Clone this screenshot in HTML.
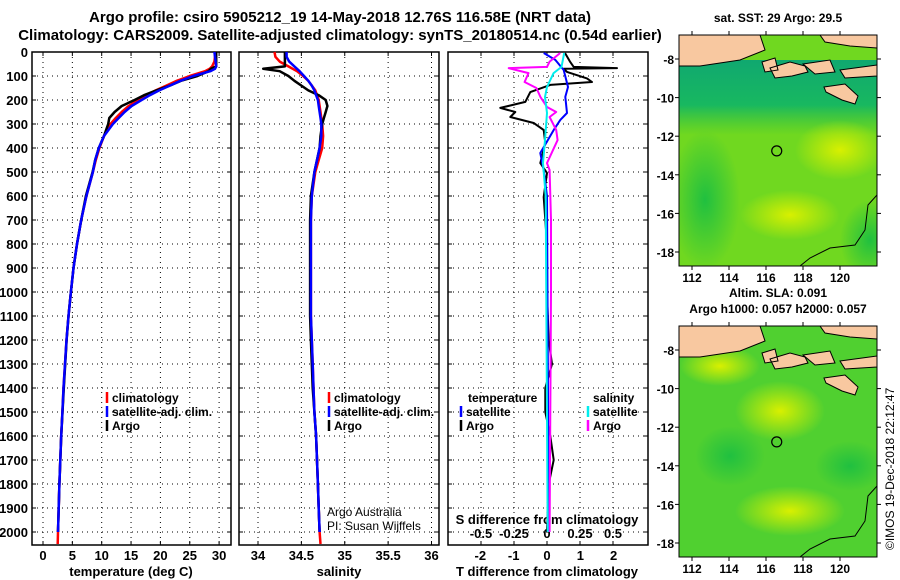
<!DOCTYPE html>
<html><head><meta charset="utf-8"><style>
body{margin:0;background:#fff}
svg{display:block;font-family:"Liberation Sans",sans-serif;font-weight:bold}
</style></head><body>
<svg id="c" width="900" height="580" viewBox="0 0 900 580">
<defs>
<radialGradient id="y1" cx="0.5" cy="0.5" r="0.5"><stop offset="0" stop-color="#d8f000"/><stop offset="1" stop-color="#d8f000" stop-opacity="0"/></radialGradient>
<radialGradient id="g1" cx="0.5" cy="0.5" r="0.5"><stop offset="0" stop-color="#20c040"/><stop offset="1" stop-color="#20c040" stop-opacity="0"/></radialGradient>
<linearGradient id="band" x1="0" y1="0" x2="0" y2="1"><stop offset="0" stop-color="#10a870"/><stop offset="0.6" stop-color="#18b860"/><stop offset="1" stop-color="#30c040" stop-opacity="0"/></linearGradient>
<clipPath id="m1c"><rect x="679" y="35" width="198" height="231"/></clipPath>
<clipPath id="m2c"><rect x="679" y="326" width="198" height="231"/></clipPath>
</defs>
<text x="340" y="22" text-anchor="middle" font-size="15">Argo profile: csiro 5905212_19 14-May-2018 12.76S 116.58E (NRT data)</text>
<text x="340" y="40" text-anchor="middle" font-size="15">Climatology: CARS2009. Satellite-adjusted climatology: synTS_20180514.nc (0.54d earlier)</text>
<g id="p1"></g>
<g id="p2"></g>
<g id="p3"></g>
<g id="m1"></g>
<g id="m2"></g>
<text x="894" y="550" transform="rotate(-90 894 550)" font-size="12" font-weight="normal">©IMOS 19-Dec-2018 22:12:47</text>
</svg>
<script>
const depths=[0,20,40,60,70,80,100,120,140,160,180,200,225,250,275,300,350,400,450,500,600,700,800,900,1000,1100,1200,1300,1400,1500,1600,1700,1800,1900,2000,2050];
const climT=[29.3,29.3,29.2,28.8,28.4,27.6,25.0,22.8,21.0,19.2,17.6,16.2,14.6,13.4,12.4,11.5,10.4,9.6,9.0,8.5,7.4,6.5,5.8,5.2,4.75,4.35,4.0,3.75,3.5,3.3,3.1,2.95,2.8,2.68,2.56,2.5];
const satT=[29.2,29.3,29.4,29.5,29.3,28.5,25.6,23.4,21.6,19.8,18.2,16.8,15.1,13.9,12.9,11.9,10.4,9.5,8.9,8.5,7.4,6.5,5.8,5.2,4.75,4.35,4.0,3.75,3.5,3.3,3.1,2.95,2.8,2.68,2.56];
const argoT=[29.5,29.5,29.5,29.5,28.6,28.2,26.3,23.5,21.6,19.3,17.2,15.6,13.4,12.2,11.3,11.1,10.4,9.5,8.9,8.45,7.3,6.5,5.8,5.2,4.75,4.35,4.02,3.78,3.55,3.32,3.1,2.95,2.8,2.68,2.56];
const climS=[34.19,34.2,34.25,34.35,34.4,34.45,34.52,34.58,34.62,34.66,34.68,34.70,34.71,34.72,34.73,34.74,34.75,34.74,34.70,34.66,34.62,34.61,34.61,34.61,34.61,34.61,34.62,34.63,34.64,34.65,34.67,34.68,34.69,34.70,34.71,34.72];
const satS=[34.33,34.33,34.36,34.42,34.45,34.48,34.53,34.58,34.62,34.65,34.67,34.69,34.70,34.71,34.72,34.73,34.73,34.71,34.68,34.65,34.62,34.61,34.61,34.61,34.61,34.61,34.62,34.63,34.64,34.65,34.67,34.68,34.69,34.70,34.71];
const argoS=[34.31,34.31,34.31,34.31,34.06,34.25,34.35,34.42,34.50,34.58,34.70,34.78,34.80,34.78,34.76,34.74,34.72,34.71,34.68,34.65,34.61,34.60,34.60,34.60,34.60,34.60,34.61,34.62,34.63,34.65,34.67,34.68,34.69,34.70,34.71];
const argoTdiffD=[4,42,62,67,70,83,110,125,137,167,208,233,250,271,296,325,379,463,504,604,800,1000,1200,1300,1400,1500,1600,1700,1800,2000];
const argoTdiff=[0.54,0.7,0.8,2.1,0.5,0.6,1.2,1.35,0.1,-0.5,-0.65,-1.4,-0.95,-1.1,-0.4,-0.1,-0.05,-0.2,0,-0.1,0,0,0.05,0.15,-0.05,-0.05,0.1,0.2,0.05,0];
const satTdiffD=[4,33,75,146,187,254,283,325,421,492,600,2000];
const satTdiff=[-0.1,0.25,0.5,0.63,0.55,0.6,0.4,0.2,-0.2,-0.1,0,0.05];
const argoSdiffD=[4,40,62,67,88,125,150,187,229,250,271,325,367,463,492,700,1000,2000];
const argoSdiff=[0.1,0.02,0,-0.29,-0.14,-0.17,-0.08,-0.05,0,0.07,0.02,0.07,0.08,0,0.02,0.03,0.03,0.02];
const satSdiffD=[4,62,88,146,187,254,367,463,600,2000];
const satSdiff=[0.13,0.11,0.05,0,-0.015,0,-0.015,-0.03,-0.01,0.005];
const depthTicks=[0,100,200,300,400,500,600,700,800,900,1000,1100,1200,1300,1400,1500,1600,1700,1800,1900,2000];
const tTicks=[0,5,10,15,20,25,30];
const sTicks=[34,34.5,35,35.5,36];
const dTTicks=[-2,-1,0,1,2];
const dSTicks=[-0.5,-0.25,0,0.25,0.5];
const lonTicks=[112,114,116,118,120];
const latTicks=[-8,-10,-12,-14,-16,-18];
const floatLon=116.58, floatLat=-12.76;

const NS='http://www.w3.org/2000/svg';
function mk(parent,tag,attrs,txt){const e=document.createElementNS(NS,tag);for(const k in attrs)e.setAttribute(k,attrs[k]);if(txt!==undefined)e.textContent=txt;parent.appendChild(e);return e;}
const TOP=52,BOT=545;
const yD=d=>TOP+d*0.24;
const xT=v=>43+v*5.87;
const xS=v=>258+(v-34)*86.75;
const xDT=v=>547+v*33.33;
const xDS=v=>547+v*132;

function frame(g,x0,x1,xs,xfn){
  depthTicks.forEach(d=>{const y=yD(d);
    const l=mk(g,'line',{x1:x0,x2:x1,y1:y,y2:y,stroke:'#000','stroke-width':1,'stroke-dasharray':'1 4'});
    
    mk(g,'line',{x1:x0,x2:x0+4,y1:y,y2:y,stroke:'#000'});mk(g,'line',{x1:x1-4,x2:x1,y1:y,y2:y,stroke:'#000'});});
  xs.forEach(v=>{const x=xfn(v);
    const l=mk(g,'line',{x1:x,x2:x,y1:TOP,y2:BOT,stroke:'#000','stroke-width':1,'stroke-dasharray':'1 4'});
    
    mk(g,'line',{x1:x,x2:x,y1:BOT-4,y2:BOT,stroke:'#000'});mk(g,'line',{x1:x,x2:x,y1:TOP,y2:TOP+4,stroke:'#000'});});
  const r=mk(g,'rect',{x:x0,y:TOP,width:x1-x0,height:BOT-TOP,fill:'none',stroke:'#000','stroke-width':1.5});
  
}
function line(g,ds,vs,xfn,col,w,name){
  const pts=[];for(let i=0;i<vs.length;i++)pts.push(xfn(vs[i]).toFixed(1)+','+yD(ds[i]).toFixed(1));
  const p=mk(g,'polyline',{points:pts.join(' '),fill:'none',stroke:col,'stroke-width':w,'stroke-linejoin':'round'});
  
}
function legend(g,x,y,items){
  items.forEach((it,i)=>{const yy=y+i*14;
    mk(g,'line',{x1:x,x2:x,y1:yy-10,y2:yy+1,stroke:it[1],'stroke-width':2.5});
    const t=mk(g,'text',{x:x+5,y:yy,'font-size':12},it[0]);
    });
}
const p1=document.getElementById('p1');
frame(p1,32,231,tTicks,xT);
depthTicks.forEach(d=>{const t=mk(p1,'text',{x:28,y:yD(d)+5,'text-anchor':'end','font-size':13},String(d));
  });
tTicks.forEach(v=>{const t=mk(p1,'text',{x:xT(v),y:560,'text-anchor':'middle','font-size':13},String(v));
  });
let t=mk(p1,'text',{x:131,y:576,'text-anchor':'middle','font-size':13},'temperature (deg C)');

line(p1,depths,climT,xT,'#f00',2.5,'climatology-temperature-line');
line(p1,depths,argoT,xT,'#000',2.5,'argo-temperature-line');
line(p1,depths,satT,xT,'#00f',2.5,'satellite-temperature-line');
legend(p1,107,402,[['climatology','#f00'],['satellite-adj. clim.','#00f'],['Argo','#000']]);
const p2=document.getElementById('p2');
frame(p2,239,439,sTicks,xS);
sTicks.forEach(v=>{const t=mk(p2,'text',{x:xS(v),y:560,'text-anchor':'middle','font-size':13},String(v));
  });
t=mk(p2,'text',{x:339,y:576,'text-anchor':'middle','font-size':13},'salinity');

line(p2,depths,climS,xS,'#f00',2.5,'climatology-salinity-line');
line(p2,depths,argoS,xS,'#000',2.5,'argo-salinity-line');
line(p2,depths,satS,xS,'#00f',2.5,'satellite-salinity-line');
legend(p2,329,402,[['climatology','#f00'],['satellite-adj. clim.','#00f'],['Argo','#000']]);
t=mk(p2,'text',{x:327,y:516,'font-size':12,'font-weight':'normal'},'Argo Australia');
t=mk(p2,'text',{x:327,y:530,'font-size':12,'font-weight':'normal'},'PI: Susan Wijffels');
const p3=document.getElementById('p3');
frame(p3,448,648,dSTicks,xDS);
dTTicks.forEach(v=>{const t=mk(p3,'text',{x:xDT(v),y:560,'text-anchor':'middle','font-size':13},String(v));
  });
dSTicks.forEach(v=>{const t=mk(p3,'text',{x:xDS(v),y:538,'text-anchor':'middle','font-size':13},String(v));
  });
t=mk(p3,'text',{x:547,y:524,'text-anchor':'middle','font-size':13},'S difference from climatology');
t=mk(p3,'text',{x:547,y:576,'text-anchor':'middle','font-size':13},'T difference from climatology');
line(p3,argoTdiffD,argoTdiff,xDT,'#000',2,'argo-t-diff-line');
line(p3,satTdiffD,satTdiff,xDT,'#00f',2,'satellite-t-diff-line');
line(p3,argoSdiffD,argoSdiff,xDS,'#f0f',2,'argo-s-diff-line');
line(p3,satSdiffD,satSdiff,xDS,'#0ee',2,'satellite-s-diff-line');
t=mk(p3,'text',{x:468,y:402,'font-size':12},'temperature');
t=mk(p3,'text',{x:593,y:402,'font-size':12},'salinity');
legend(p3,461,416,[['satellite','#00f'],['Argo','#000']]);
legend(p3,588,416,[['satellite','#0ee'],['Argo','#f0f']]);
function map(id,y0,h,kind,titles){
  const g=document.getElementById(id);const x0=679,w=198;
  const lonx=v=>692+(v-112)*18.5;
  const laty=v=>(y0+24)+(-8-v)*(h-38)/10;
  titles.forEach((s,i)=>{const tt=mk(g,'text',{x:778,y:y0-(titles.length-i)*16+3,'text-anchor':'middle','font-size':12},s);
    });
  const c=mk(g,'g',{'clip-path':'url(#m'+(id==='m1'?'1':'2')+'c)'});
  if(kind==='sst'){
    mk(c,'rect',{x:x0,y:y0,width:w,height:h,fill:'#70d820'});
    mk(c,'rect',{x:x0,y:y0+25,width:w,height:75,fill:'url(#band)'});
    mk(c,'ellipse',{cx:840,cy:150,rx:45,ry:30,fill:'url(#y1)'});
    mk(c,'ellipse',{cx:790,cy:215,rx:50,ry:25,fill:'url(#y1)'});
    mk(c,'ellipse',{cx:705,cy:200,rx:35,ry:70,fill:'url(#g1)'});
    mk(c,'ellipse',{cx:870,cy:240,rx:30,ry:40,fill:'url(#g1)'});
  } else {
    mk(c,'rect',{x:x0,y:y0,width:w,height:h,fill:'#50d030'});
    mk(c,'ellipse',{cx:780,cy:y0+85,rx:45,ry:30,fill:'url(#y1)'});
    mk(c,'ellipse',{cx:790,cy:y0+185,rx:55,ry:25,fill:'url(#y1)'});
    mk(c,'ellipse',{cx:720,cy:y0+40,rx:40,ry:20,fill:'url(#y1)'});
    mk(c,'ellipse',{cx:730,cy:y0+130,rx:35,ry:30,fill:'url(#g1)'});
    mk(c,'ellipse',{cx:850,cy:y0+140,rx:35,ry:25,fill:'url(#g1)'});
  }
  const oy=y0-35;
  const land=mk(c,'path',{d:`M679 ${oy+35} L760 ${oy+35} L765 ${oy+50} L740 ${oy+60} L700 ${oy+66} L679 ${oy+66} Z M762 ${oy+62} L775 ${oy+58} L778 ${oy+70} L765 ${oy+72} Z M770 ${oy+68} L790 ${oy+62} L805 ${oy+66} L808 ${oy+72} L792 ${oy+76} L775 ${oy+78} Z M803 ${oy+64} L830 ${oy+60} L835 ${oy+72} L815 ${oy+74} Z M840 ${oy+70} L877 ${oy+65} L877 ${oy+76} L845 ${oy+78} Z M824 ${oy+87} L845 ${oy+84} L858 ${oy+96} L855 ${oy+104} L842 ${oy+100} L826 ${oy+92} Z M820 ${oy+35} L877 ${oy+35} L877 ${oy+48} L850 ${oy+46} L825 ${oy+42} Z`,fill:'#f8c8a0',stroke:'#000','stroke-width':1});
  
  const cst=mk(c,'path',{d:`M877 ${oy+195} L868 ${oy+205} L865 ${oy+230} L855 ${oy+245} L830 ${oy+248} L810 ${oy+258} L800 ${oy+266}`,fill:'none',stroke:'#000','stroke-width':1});
  
  const fm=mk(g,'circle',{cx:lonx(floatLon),cy:laty(floatLat),r:5,fill:'none',stroke:'#000','stroke-width':1.2});
  
  const fr=mk(g,'rect',{x:x0,y:y0,width:w,height:h,fill:'none',stroke:'#000','stroke-width':1});
  
  lonTicks.forEach(v=>{const x=lonx(v);mk(g,'line',{x1:x,x2:x,y1:y0-4,y2:y0,stroke:'#000'});mk(g,'line',{x1:x,x2:x,y1:y0+h,y2:y0+h+4,stroke:'#000'});
    const tt=mk(g,'text',{x:x,y:y0+h+16,'text-anchor':'middle','font-size':12},String(v));});
  latTicks.forEach(v=>{const y=laty(v);mk(g,'line',{x1:x0-4,x2:x0,y1:y,y2:y,stroke:'#000'});mk(g,'line',{x1:x0+w,x2:x0+w+4,y1:y,y2:y,stroke:'#000'});
    const tt=mk(g,'text',{x:674,y:y+5,'text-anchor':'end','font-size':12},String(v));});
}
map('m1',35,231,'sst',['sat. SST: 29 Argo: 29.5']);
map('m2',326,231,'sla',['Altim. SLA: 0.091','Argo h1000: 0.057 h2000: 0.057']);
</script>
</body></html>
